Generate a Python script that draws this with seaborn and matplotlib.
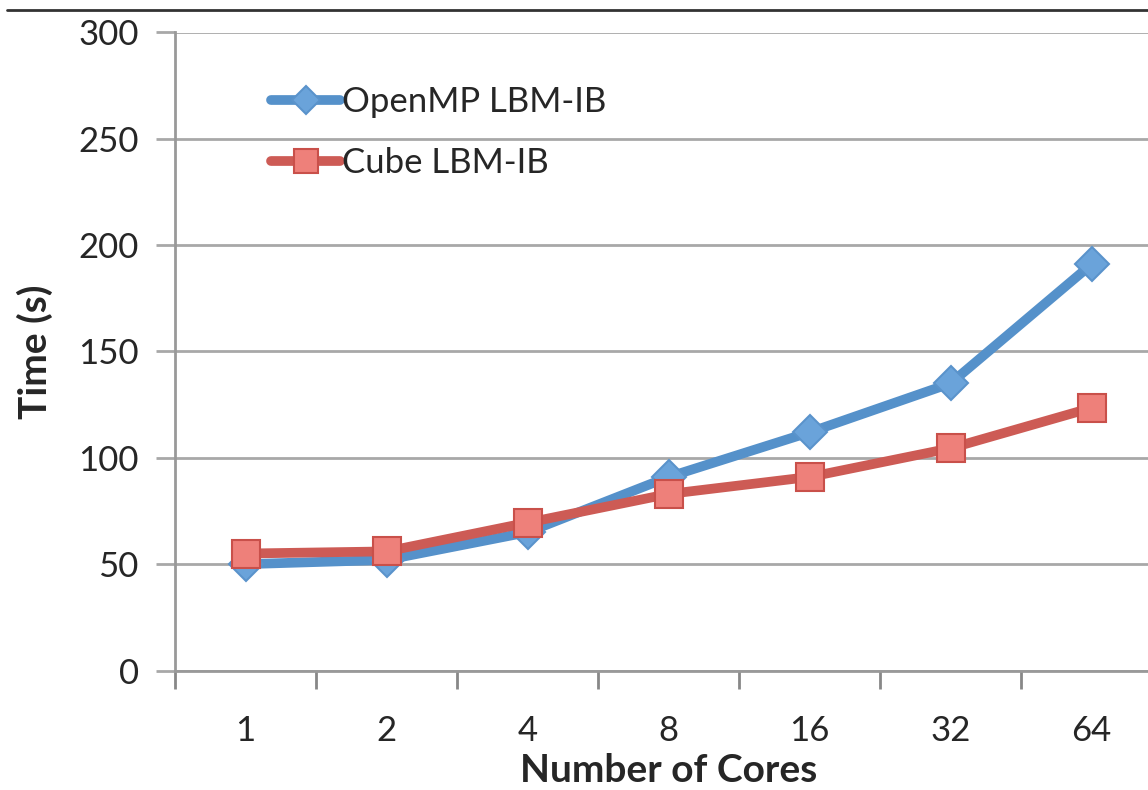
import matplotlib
matplotlib.use("Agg")
import matplotlib.pyplot as plt
import seaborn as sns
import numpy as np
import pandas as pd
from matplotlib.lines import Line2D

cores = ["1", "2", "4", "8", "16", "32", "64"]
openmp = [50, 52, 65, 91, 112, 135, 191]
cube = [55, 56, 69.5, 83, 91, 104.5, 123.5]
series_names = ["OpenMP LBM-IB", "Cube LBM-IB"]
yticks = [0, 50, 100, 150, 200, 250, 300]

sns.set_theme(style="white")
plt.rcParams['font.family'] = ['Lato', 'DejaVu Sans']

fig = plt.figure(figsize=(11.48, 7.9), dpi=100)
ax = fig.add_axes([175/1148, 119.5/790, 987/1148, 638/790])

pos = np.arange(len(cores))
df = pd.DataFrame({"x": np.concatenate([pos, pos]),
                   "y": openmp + cube,
                   "s": [series_names[0]] * len(cores) + [series_names[1]] * len(cores)})

blue = "#5591CA"
red = "#CD5B55"
sns.lineplot(data=df[df.s == series_names[0]], x="x", y="y", ax=ax, color=blue,
             linewidth=7, marker="D", markersize=17, markerfacecolor="#6AA3DA",
             markeredgecolor="#5A93CB", markeredgewidth=1.5, label=series_names[0], zorder=3)
sns.lineplot(data=df[df.s == series_names[1]], x="x", y="y", ax=ax, color=red,
             linewidth=7, marker="s", markersize=20, markerfacecolor="#EE807A",
             markeredgecolor="#C9504A", markeredgewidth=1.5, label=series_names[1], zorder=4)

ax.set_xlim(-0.5, len(cores) - 0.5)
ax.set_ylim(0, 300)
ax.set_yticks(yticks)
ax.set_yticklabels([str(v) for v in yticks], fontsize=25)
ax.yaxis.grid(True, color="#A8A8A8", linewidth=2)
ax.set_axisbelow(True)

ax.set_xticks(np.arange(-0.5, len(cores), 1.0))
ax.set_xticklabels([])
ax.set_xticks(pos, minor=True)
ax.set_xticklabels(cores, minor=True, fontsize=25)
ax.tick_params(axis="x", which="major", direction="out", length=13, width=2, color="#888888", bottom=True)
ax.tick_params(axis="x", which="minor", length=0, pad=32, bottom=True)
ax.tick_params(axis="y", direction="out", length=14, width=2, color="#A8A8A8", left=True, pad=12)

for s in ["top", "right"]:
    ax.spines[s].set_visible(False)
for s in ["left", "bottom"]:
    ax.spines[s].set_color("#999999")
    ax.spines[s].set_linewidth(2)

ax.set_xlabel("Number of Cores", fontsize=28, fontweight="bold", labelpad=4)
ax.set_ylabel("Time (s)", fontsize=28, fontweight="bold", labelpad=18)

leg = ax.legend(loc="upper left", bbox_to_anchor=(0.083, 0.938), frameon=False,
                fontsize=25, handlelength=2.0, handletextpad=0.05, labelspacing=0.85,
                borderaxespad=0, markerscale=0.85)

fig.add_artist(Line2D([7/1148, 1.0], [1 - 10/790, 1 - 10/790], color="#333333", linewidth=2))

fig.savefig("out.png", dpi=100)
